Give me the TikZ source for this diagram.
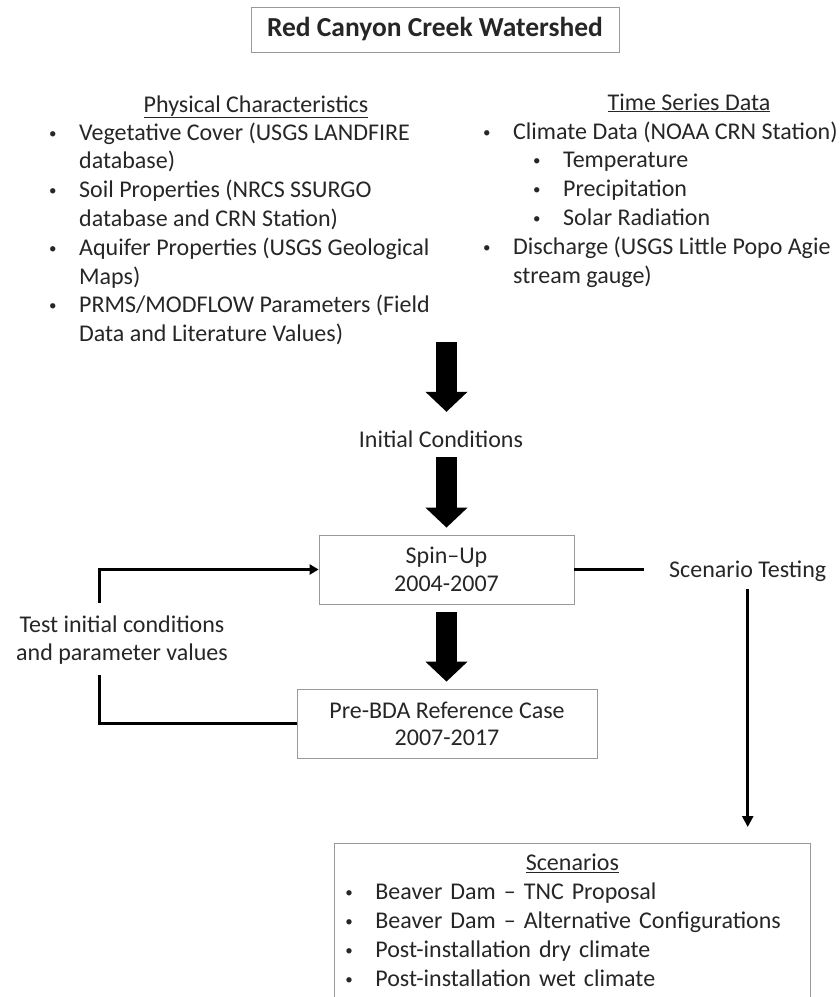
\documentclass[tikz,border=0pt]{standalone}
\usepackage{fontspec}
\setmainfont{Carlito}
\usetikzlibrary{arrows.meta}
\setlength{\parindent}{0pt}
\newcommand{\bul}{\leavevmode\llap{\raisebox{2pt}{\fontsize{15}{15}\selectfont\textbullet}\hspace{22.5pt}}}
\begin{document}
\begin{tikzpicture}
[x=1pt,y=-1pt,inner sep=0pt,
 every node/.style={font=\fontsize{24}{28.8}\selectfont,text=black!85},
 box/.style={draw=black!40,line width=0.8pt},
 list/.style={anchor=north west,align=left},
 bigarr/.style={line width=21pt,-{Triangle[width=41pt,length=20pt]}},
 conn/.style={line width=3pt},
 thinarr/.style={line width=2.5pt,-{Triangle[width=11pt,length=11pt]}}]
\useasboundingbox (0,0) rectangle (839,997);
\clip (0,0) rectangle (839,997);
\path (435,29.5) node (title) [box,minimum width=368pt,minimum height=45pt,font=\fontsize{27.5}{32}\selectfont\bfseries] {Red Canyon Creek Watershed}
(256,112) node (physh) [anchor=base] {\underline{Physical Characteristics}}
(79,119.8) node (phys) [list] {\strut\bul Vegetative Cover (USGS LANDFIRE\\
  database)\\
  \bul Soil Properties (NRCS SSURGO\\
  database and CRN Station)\\
  \bul Aquifer Properties (USGS Geological\\
  Maps)\\
  \bul PRMS/MODFLOW Parameters (Field\\
  Data and Literature Values)}
(689,110) node (timeh) [anchor=base] {\underline{Time Series Data}}
(513,118.8) node (time) [list] {\strut\bul Climate Data (NOAA CRN Station)\\
  \hspace*{50pt}\bul Temperature\\
  \hspace*{50pt}\bul Precipitation\\
  \hspace*{50pt}\bul Solar Radiation\\
  \bul Discharge (USGS Little Popo Agie\\
  stream gauge)}
(441,447) node (initc) [anchor=base,text height=16pt,text depth=0pt] {Initial Conditions}
(446.5,569.5) node (spin) [box,minimum width=255pt,minimum height=69pt,align=center,font=\fontsize{24}{28}\selectfont] {Spin–Up\\2004-2007}
(447,723.5) node (pre) [box,minimum width=300pt,minimum height=69pt,align=center,font=\fontsize{24}{27}\selectfont] {Pre-BDA Reference Case\\2007-2017}
(122,640) node (tst) [align=center,font=\fontsize{24}{28}\selectfont] {Test initial conditions\\and parameter values}
(669,577) node (sctest) [anchor=base west] {Scenario Testing}
(334,843) node (scen) [box,anchor=north west,text width=476pt,inner ysep=7pt,font=\fontsize{24}{29}\selectfont] {{\centering\strut\underline{Scenarios}\par}
  \raggedright
  \hspace*{41pt}\bul Beaver Dam – TNC Proposal\\
  \hspace*{41pt}\bul Beaver Dam – Alternative Configurations\\
  \hspace*{41pt}\bul Post-installation dry climate\\
  \hspace*{41pt}\bul Post-installation wet climate\par
  \vspace*{30pt}};
\coordinate (a1) at (446.5,342);
\coordinate (cA) at (99,675);
\coordinate (cB) at (99,603);
\draw [bigarr,shorten >=19pt] (a1) -- (a1 |- initc.north);
\draw [bigarr,shorten <=10pt,shorten >=7pt] (initc.south -| spin) -- (spin.north);
\draw [bigarr,shorten <=8pt,shorten >=7pt] (spin.south) -- (spin.south |- pre.north);
\draw [conn] (pre.west) -| (cA);
\draw [conn,-{Triangle[width=10pt,length=9pt]}] (cB) |- (spin.west);
\draw [conn,shorten >=25pt] (spin.east) -- (spin.east -| sctest.west);
\draw [thinarr,shorten <=8pt,shorten >=16pt] (sctest.south) -- (sctest.south |- scen.north);
\end{tikzpicture}
\end{document}
